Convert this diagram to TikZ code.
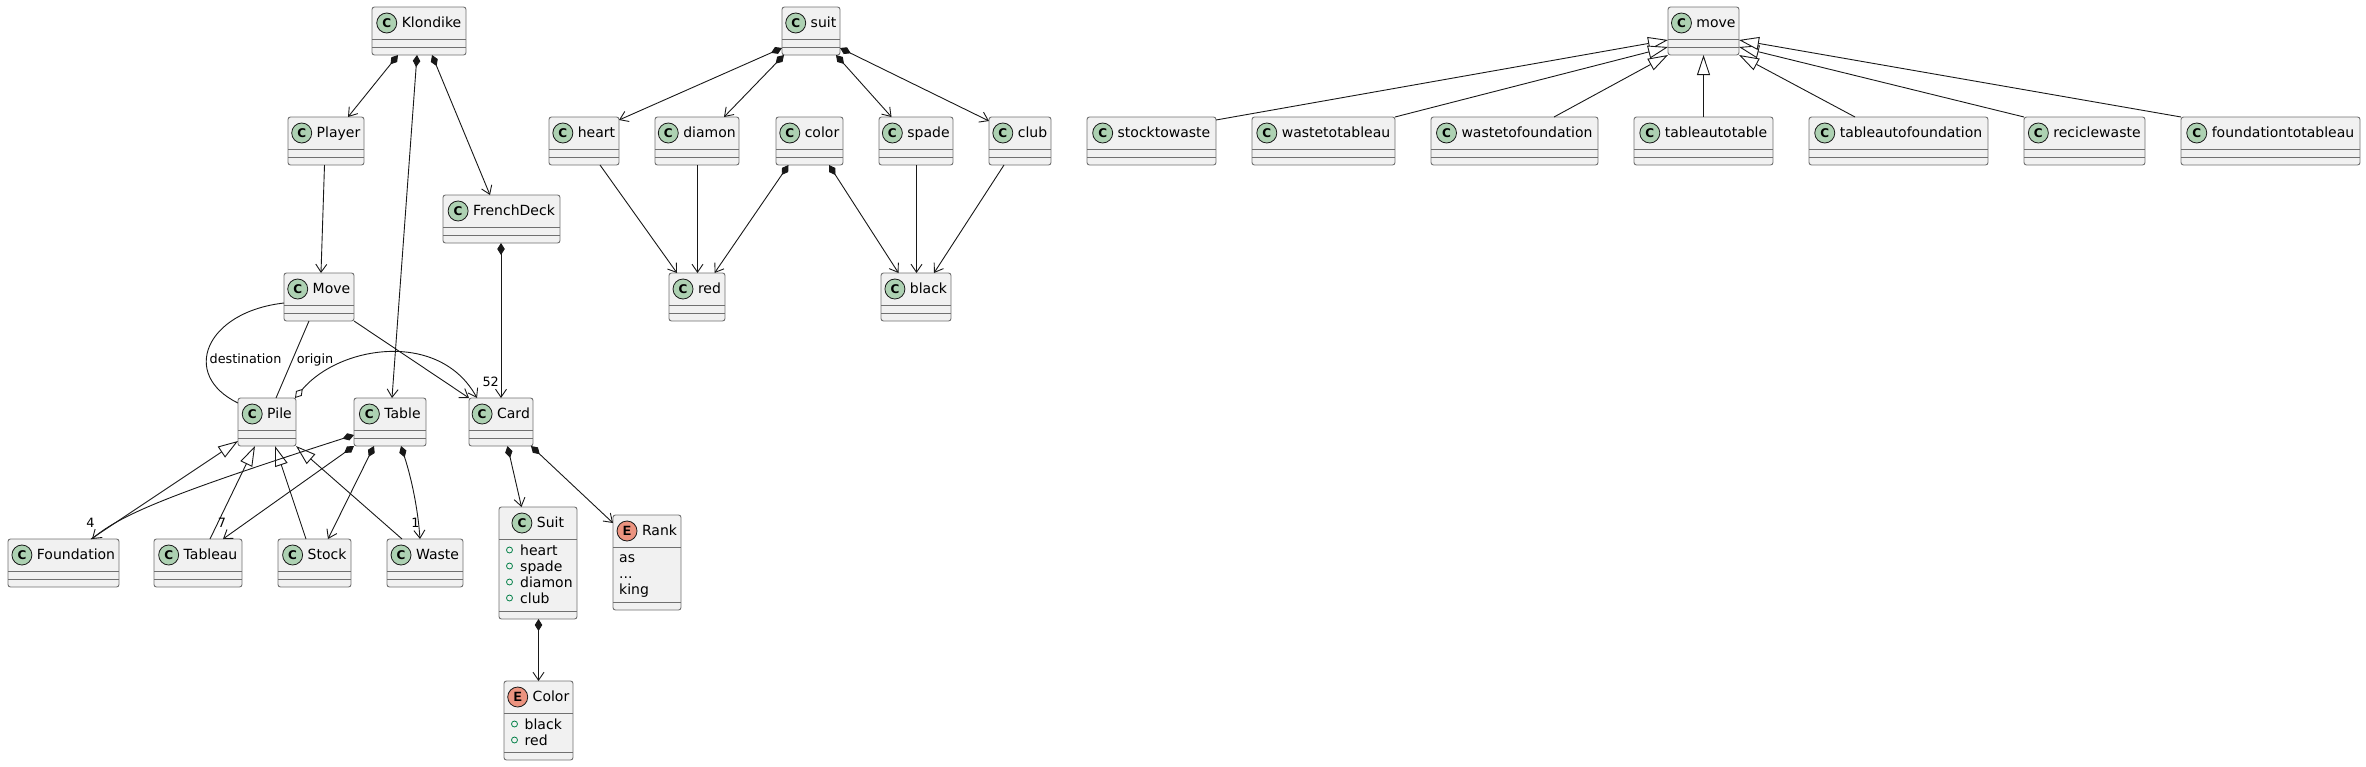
\documentclass[tikz,border=0pt]{standalone}
\usepackage{fontspec}
\setmainfont{DejaVu Sans}
\newfontfamily\emono{Liberation Mono}
\usetikzlibrary{arrows.meta,calc}
\definecolor{boxfill}{HTML}{F1F1F1}
\definecolor{boxline}{HTML}{707070}
\definecolor{edgec}{HTML}{181818}
\definecolor{cgreen}{HTML}{ADD1B2}
\definecolor{ered}{HTML}{EB937F}
\definecolor{attrc}{HTML}{038048}
\tikzset{
  box/.style={draw=boxline, fill=boxfill, rounded corners=2.5pt, line width=0.9pt, inner sep=0pt, outer sep=0pt},
  hdr/.style={inner sep=0pt, outer sep=0pt, font=\fontsize{14}{16}\selectfont},
  icoC/.style={circle, draw=edgec, fill=cgreen, line width=0.8pt, minimum size=20pt, inner sep=0pt, font=\fontsize{12}{12}\selectfont\bfseries},
  icoE/.style={icoC, fill=ered, font=\fontsize{14}{14}\selectfont\emono\bfseries},
  div/.style={draw=boxline, line width=0.9pt},
  conn/.style={draw=edgec, line width=0.9pt},
  arr/.style={conn, -{Straight Barb[length=8pt,width=11pt]}},
  comp/.style={conn, {Diamond[length=12pt,width=7.5pt]}-{Straight Barb[length=8pt,width=11pt]}},
  agg/.style={conn, {Diamond[open,length=12pt,width=7.5pt]}-{Straight Barb[length=8pt,width=11pt]}},
  inh/.style={conn, -{Triangle[length=20pt,width=13pt,fill=white]}},
  lbl/.style={inner sep=0pt, font=\fontsize{12.8}{14}\selectfont},
  attrtxt/.style={inner sep=0pt, anchor=base west, font=\fontsize{14}{16}\selectfont},
  marker/.style={draw=attrc, line width=0.8pt}
}
% name, left, top, right, bottom, letter, text
\newcommand{\umlbox}[7]{%
  \pgfmathsetmacro{\bw}{#4-#2}\pgfmathsetmacro{\bh}{#5-#3}%
  \node[box, anchor=north west, minimum width=\bw pt, minimum height=\bh pt] (#1) at (#2,#3) {};
  \node[hdr, anchor=base] (#1-t) at ({(#2+#4)/2},{#3+20.5}) {\hspace*{25pt}#7};
  \node[ico#6] (#1-i) at ([xshift=10pt,yshift=4.5pt]#1-t.base west) {#6};
  \draw[div] ([yshift=-32pt]#1.north west) -- ([yshift=-32pt]#1.north east);
  \draw[div] ([yshift=8pt]#1.south west) -- ([yshift=8pt]#1.south east);
}
\newcommand{\ecls}[5]{\umlbox{#1}{#2}{#3}{#4}{#3+48}{C}{#5}}
% name, x marker, x text, row centre y, text
\newcommand{\attr}[5]{%
  \draw[marker] (#2,#4) circle (3pt);
  \node[attrtxt] (#1) at (#3,#4+5) {#5};
}
\begin{document}
\begin{tikzpicture}[x=1pt,y=-1pt]
\useasboundingbox (0,0) rectangle (2366,766);
% ---- left cluster
\ecls{klondike}{372}{7}{466}{Klondike}
\ecls{player}{288}{117}{364}{Player}
\ecls{frenchdeck}{443}{195}{560}{FrenchDeck}
\ecls{move}{284}{273}{354}{Move}
\ecls{pile}{238}{398}{296}{Pile}
\ecls{table}{354}{398}{426}{Table}
\ecls{card}{469}{398}{533}{Card}
\ecls{foundation}{8}{539}{119}{Foundation}
\ecls{tableau}{154}{539}{242}{Tableau}
\ecls{stock}{278}{539}{351}{Stock}
\ecls{waste}{387}{539}{463}{Waste}
\umlbox{cSuit}{499}{507}{577}{619}{C}{Suit}
\attr{cSuit-a1}{509.5}{520}{550}{heart}
\attr{cSuit-a2}{509.5}{520}{566}{spade}
\attr{cSuit-a3}{509.5}{520}{582}{diamon}
\attr{cSuit-a4}{509.5}{520}{598}{club}
\umlbox{rank}{613}{515}{681}{610}{E}{Rank}
\node[attrtxt] (rank-a1) at (619,562) {as};
\node[attrtxt] (rank-a2) at (619,578) {...};
\node[attrtxt] (rank-a3) at (619,594) {king};
\umlbox{cColor}{504}{681}{573}{760}{E}{Color}
\attr{cColor-a1}{514.5}{524.5}{724}{black}
\attr{cColor-a2}{514.5}{524.5}{740}{red}
% ---- middle cluster
\ecls{suit}{782}{7}{840}{suit}
\ecls{heart}{549}{117}{619}{heart}
\ecls{diamon}{655}{117}{739}{diamon}
\ecls{color}{776}{117}{843}{color}
\ecls{spade}{879}{117}{953}{spade}
\ecls{club}{989}{117}{1051}{club}
\ecls{red}{669}{273}{725}{red}
\ecls{black}{881}{273}{951}{black}
% ---- right cluster
\ecls{move2}{1668}{7}{1739}{move}
\ecls{stocktowaste}{1087}{117}{1216}{stocktowaste}
\ecls{wastetotableau}{1252}{117}{1395}{wastetotableau}
\ecls{wastetofoundation}{1431}{117}{1598}{wastetofoundation}
\ecls{tableautotable}{1634}{117}{1773}{tableautotable}
\ecls{tableautofoundation}{1809}{117}{1988}{tableautofoundation}
\ecls{reciclewaste}{2024}{117}{2145}{reciclewaste}
\ecls{foundationtotableau}{2181}{117}{2360}{foundationtotableau}

% ---- edges left cluster
\draw[comp] ([xshift=26pt]klondike.south west) -- ([xshift=60pt]player.north west);
\draw[comp] ([xshift=45pt]klondike.south west) -- ([xshift=38pt]table.north west);
\draw[comp] ([xshift=60pt]klondike.south west) -- ([xshift=47pt]frenchdeck.north west);
\draw[arr] ([xshift=36.5pt]player.south west) -- ([xshift=37pt]move.north west);
\draw[comp] ([xshift=58pt]frenchdeck.south west) -- ([xshift=32pt]card.north west);
\node[lbl, anchor=base east] (l52) at (499,386.5) {52};
\draw[arr] (move.south east) -- (card.north west);
\draw[agg] ([xshift=-1pt]pile.north east) .. controls (340,345) and (440,330) .. ([xshift=8pt]card.north west);
\draw[conn] ([yshift=-30pt]move.north west) .. controls (205,312) and (180,375) .. ([yshift=-5pt]pile.north west);
\node[lbl, anchor=base] (ldest) at (245.5,363.5) {destination};
\draw[conn] ([xshift=25pt]move.south west) -- ([xshift=38pt]pile.north west);
\node[lbl, anchor=base] (lorig) at (315,363.5) {origin};
\draw[inh] ([xshift=83pt]foundation.north west) -- ([yshift=5pt]pile.south west);
\draw[inh] ([xshift=56pt]tableau.north west) -- ([xshift=17pt]pile.south west);
\draw[inh] ([xshift=28pt]stock.north west) -- ([xshift=37pt]pile.south west);
\draw[inh] ([xshift=15pt]waste.north west) -- (pile.south east);
\draw[comp] ([yshift=11pt]table.south west) .. controls (170,494) and (120,515) .. ([xshift=84pt]foundation.north west);
\node[lbl, anchor=base] (l4) at (90.5,527) {4};
\draw[comp] (table.south west) -- ([xshift=69pt]tableau.north west);
\node[lbl, anchor=base] (l7) at (222,527) {7};
\draw[comp] ([xshift=20pt]table.south west) -- ([xshift=50pt]stock.north west);
\draw[comp] ([xshift=47pt]table.south west) .. controls (412,480) and (418,510) .. ([xshift=33pt]waste.north west);
\node[lbl, anchor=base] (l1) at (415.5,527) {1};
\draw[comp] ([xshift=38.5pt]card.south west) -- ([xshift=22.5pt]cSuit.north west);
\draw[comp] ([xshift=62pt]card.south west) -- ([yshift=-8pt]rank.north west);
\draw[comp] ([xshift=39.5pt]cSuit.south west) -- ([xshift=34.5pt]cColor.north west);

% ---- edges middle cluster
\draw[comp] ([yshift=7pt]suit.south west) -- ([yshift=-3pt]heart.north east);
\draw[comp] ([xshift=2pt]suit.south west) -- ([xshift=69pt]diamon.north west);
\draw[comp] ([xshift=54pt]suit.south west) -- ([xshift=12.5pt]spade.north west);
\draw[comp] ([yshift=7pt]suit.south east) -- ([yshift=-4pt]club.north west);
\draw[arr] ([xshift=51pt]heart.south west) -- ([xshift=8pt]red.north west);
\draw[arr] ([xshift=42.5pt]diamon.south west) -- ([xshift=28.5pt]red.north west);
\draw[comp] ([xshift=12.5pt]color.south west) -- ([xshift=45.5pt]red.north west);
\draw[comp] ([xshift=53pt]color.south west) -- ([xshift=17.5pt]black.north west);
\draw[arr] ([xshift=37.5pt]spade.south west) -- ([xshift=35.5pt]black.north west);
\draw[arr] ([xshift=15pt]club.south west) -- ([xshift=53pt]black.north west);

% ---- edges right cluster
\draw[inh] ([yshift=-3pt]stocktowaste.north east) -- ([yshift=-33pt]move2.north west);
\draw[inh] (wastetotableau.north east) -- ([yshift=-40pt]move2.north west);
\draw[inh] ([xshift=123pt]wastetofoundation.north west) -- (move2.south west);
\draw[inh] ([xshift=69.5pt]tableautotable.north west) -- ([xshift=35.5pt]move2.south west);
\draw[inh] ([xshift=46pt]tableautofoundation.north west) -- (move2.south east);
\draw[inh] (reciclewaste.north west) -- ([yshift=-40pt]move2.north east);
\draw[inh] (foundationtotableau.north west) -- ([yshift=-33pt]move2.north east);
\end{tikzpicture}
\end{document}
